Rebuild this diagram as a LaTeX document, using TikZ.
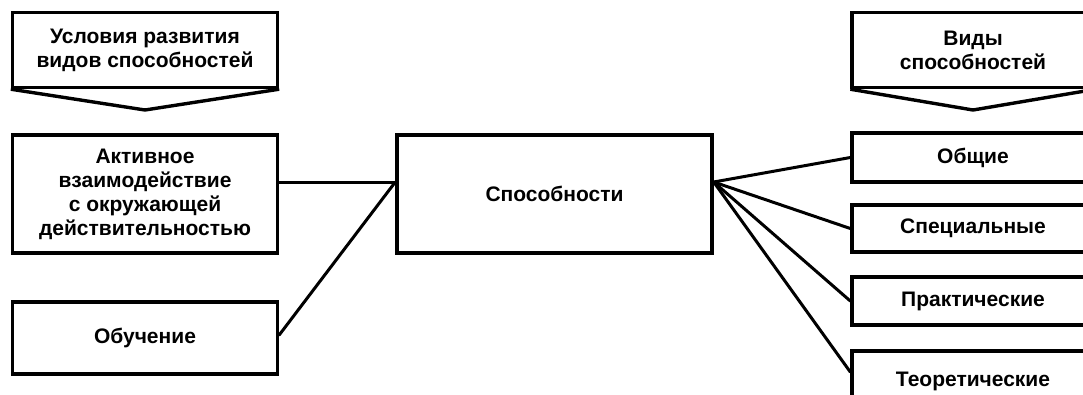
\documentclass[tikz,border=0pt]{standalone}
\usepackage{fontspec}
\setmainfont{Liberation Sans}
\begin{document}
\begin{tikzpicture}[x=1pt,y=-1pt,
  box/.style={draw,line width=3.4pt,inner sep=0pt,align=center,
    font=\fontsize{21}{24}\selectfont\bfseries},
  conn/.style={line width=3pt,line cap=round}]
\path[use as bounding box,clip] (0,0) rectangle (1083,394);
\fill[white] (0,0) rectangle (1083,394);
% headers
\node[box,minimum width=265pt,minimum height=75pt] (cond) at (145,50)
  {Условия развития\\видов способностей};
\coordinate (condtip) at (145,110);
\draw[line width=3.4pt,line join=miter] (cond.south west) -- (condtip) -- (cond.south east);
\node[box,minimum width=242pt,minimum height=75pt] (vid) at (973,50)
  {Виды\\способностей};
\coordinate (vidtip) at (973,110);
\draw[line width=3.4pt,line join=miter] (vid.south west) -- (vidtip) -- (vid.south east);
% left boxes
\node[box,minimum width=265pt,minimum height=118pt] (akt) at (145,194)
  {Активное\\взаимодействие\\с окружающей\\действительностью};
\node[box,minimum width=265pt,minimum height=72pt] (obu) at (145,338) {Обучение};
% center
\node[box,minimum width=315pt,minimum height=118pt] (cap) at (554.5,194) {Способности};
% right boxes
\node[box,minimum width=242pt,minimum height=49pt] (obs) at (973,157.5) {Общие};
\node[box,minimum width=242pt,minimum height=47pt] (spec) at (973,228.5) {Специальные};
\node[box,minimum width=242pt,minimum height=48pt] (prak) at (973,301) {Практические};
\node[box,minimum width=242pt,minimum height=60pt] (teor) at (973,381) {Теоретические};
% connectors
\coordinate (cl) at ([yshift=12pt]cap.west);
\coordinate (cr) at ([yshift=12pt]cap.east);
\draw[conn] (akt.east |- cl) -- (cl);
\draw[conn] ([yshift=3pt]obu.east) -- (cl);
\draw[conn] (cr) -- (obs.west);
\draw[conn] (cr) -- (spec.west);
\draw[conn] (cr) -- (prak.west);
\draw[conn] (cr) -- ([yshift=9pt]teor.west);
\end{tikzpicture}
\end{document}
